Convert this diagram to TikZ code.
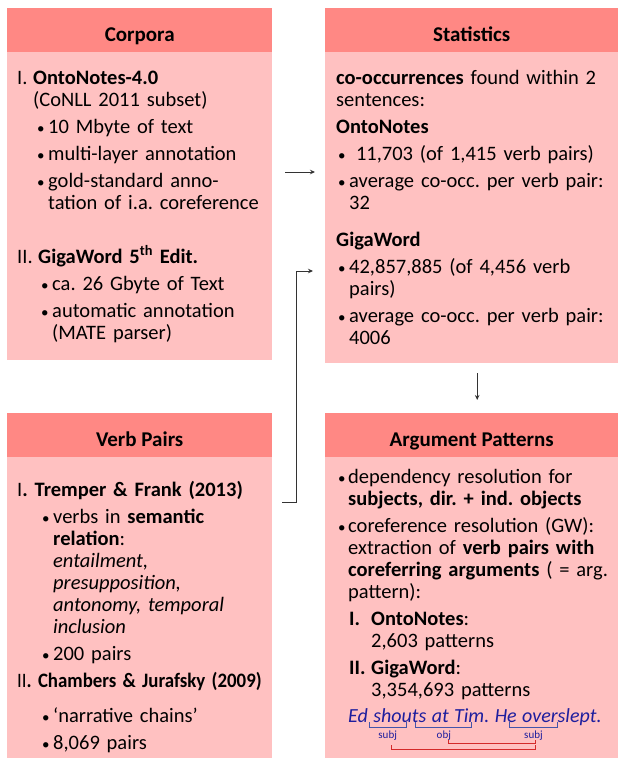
\documentclass[tikz,border=0pt]{standalone}
\usepackage{fontspec}
\setmainfont{Carlito}
\usepackage{graphicx}
\usetikzlibrary{arrows.meta,calc}
\frenchspacing

\definecolor{headred}{HTML}{FF8884}
\definecolor{bodypink}{HTML}{FFC1C1}
\definecolor{exblue}{HTML}{1E1E9E}
\definecolor{brkblue}{HTML}{4455AA}
\definecolor{corefred}{HTML}{D42A2A}

\newcommand\bodyfnt{\fontsize{20.5}{22}\selectfont\parskip=5pt\relax}
\newcommand\bul{{\fontsize{15}{15}\selectfont\textbullet}}
\newcommand\li[4]{\par\hangindent=#2\hangafter=1\noindent\makebox[#2][l]{\hspace*{#1}#3}\strut#4\par}

\begin{document}
\begin{tikzpicture}[x=1pt,y=-1pt,
	head/.style={fill=headred, anchor=north west, inner sep=0pt, minimum height=44pt,
		font=\fontsize{21}{24}\selectfont\bfseries, text height=23pt, text depth=0pt},
	body/.style={fill=bodypink, anchor=north west, inner sep=0pt},
	txt/.style={anchor=north west, inner sep=0pt, text width=290pt, align=left, font=\bodyfnt},
	word/.style={anchor=base west, inner sep=0pt, text=exblue, font=\fontsize{20}{22}\selectfont\itshape},
	lab/.style={anchor=base, inner sep=0pt, text=exblue, font=\fontsize{11}{12}\selectfont},
	brk/.style={draw=brkblue, line width=1pt},
	coref/.style={draw=corefred, line width=1pt},
	arr/.style={draw=black!80, line width=1pt, -{Stealth[length=5pt,width=4.5pt]}}]

	\useasboundingbox (0,0) rectangle (618,758);

	% boxes
	\node[head, minimum width=265pt] (corpHead) at (7,8) {Corpora};
	\node[body, minimum width=265pt, minimum height=308pt] (corpBody) at (7,52) {};
	\node[head, minimum width=293pt] (statHead) at (325,8) {Statistics};
	\node[body, minimum width=293pt, minimum height=311pt] (statBody) at (325,52) {};
	\node[head, minimum width=265pt] (verbHead) at (7,413) {Verb Pairs};
	\node[body, minimum width=265pt, minimum height=301pt] (verbBody) at (7,457) {};
	\node[head, minimum width=293pt] (argHead) at (325,413) {Argument Patterns};
	\node[body, minimum width=293pt, minimum height=301pt] (argBody) at (325,457) {};

	% texts
	\node[txt] (corpText) at (17,57) {
		\li{0pt}{16pt}{I.}{\textbf{OntoNotes-4.0}\newline(CoNLL 2011 subset)}
		\li{20pt}{31pt}{\bul}{10 Mbyte of text}
		\li{20pt}{31pt}{\bul}{multi-layer annotation}
		\li{20pt}{31pt}{\bul}{gold-standard anno-\newline tation of i.a. coreference}
		\vspace{27pt}
		\li{0pt}{21pt}{II.}{\textbf{GigaWord 5\textsuperscript{th} Edit.}}
		\li{24pt}{35pt}{\bul}{ca. 26 Gbyte of Text}
		\li{24pt}{35pt}{\bul}{automatic annotation\newline(MATE parser)}
	};
	\node[txt] (statText) at (336,57) {
		\li{0pt}{0pt}{}{\textbf{co-occurrences} found within 2\newline sentences:}
		\li{0pt}{0pt}{}{\textbf{OntoNotes}}
		\li{2pt}{13pt}{\bul}{\ 11,703 (of 1,415 verb pairs)}
		\li{2pt}{13pt}{\bul}{average co-occ. per verb pair:\newline 32}
		\vspace{10pt}
		\li{0pt}{0pt}{}{\textbf{GigaWord}}
		\li{2pt}{13pt}{\bul}{42,857,885 (of 4,456 verb\newline pairs)}
		\li{2pt}{13pt}{\bul}{average co-occ. per verb pair:\newline 4006}
	};
	\node[txt] (verbText) at (17,469) {
		\li{0pt}{0pt}{}{I\textbf{. Tremper \& Frank (2013)}}
		\li{25pt}{36pt}{\bul}{verbs in \textbf{semantic}\newline\textbf{relation}:\newline
			\textit{entailment,}\newline\textit{presupposition,}\newline
			\textit{antonomy, temporal}\newline\textit{inclusion}}
		\li{25pt}{36pt}{\bul}{200 pairs}
		\li{0pt}{0pt}{}{\scalebox{.92}[1]{II\textbf{. Chambers \& Jurafsky (2009)}}}
		\vspace{8pt}
		\li{25pt}{36pt}{\bul}{`narrative chains'}
		\li{25pt}{36pt}{\bul}{8,069 pairs}
	};
	\node[txt] (argText) at (338,456) {
		\li{0pt}{10pt}{\bul}{dependency resolution for\newline\textbf{subjects, dir. + ind. objects}}
		\li{0pt}{10pt}{\bul}{coreference resolution (GW):\newline extraction of \textbf{verb pairs with}\newline
			\textbf{coreferring arguments} ( = arg.\newline pattern):}
		\li{11pt}{33pt}{\textbf{I.}}{\textbf{OntoNotes}:\newline 2,603 patterns}
		\li{11pt}{33pt}{\textbf{II.}}{\textbf{GigaWord}:\newline 3,354,693 patterns}
	};

	% example sentence
	\node[word] (wEd) at (348,722) {Ed};
	\node[word] (wShouts) at ([xshift=5pt]wEd.base east) {shouts};
	\node[word] (wAt) at ([xshift=5pt]wShouts.base east) {at};
	\node[word] (wTim) at ([xshift=5pt]wAt.base east) {Tim.};
	\node[word] (wHe) at ([xshift=5pt]wTim.base east) {He};
	\node[word] (wOver) at ([xshift=5pt]wHe.base east) {overslept.};

	\coordinate (b1l) at ([xshift=1pt]wEd.base east);
	\coordinate (b1r) at ($(wShouts.base west)!.62!(wShouts.base east)$);
	\coordinate (b2l) at ($(wShouts.base west)!.8!(wShouts.base east)$);
	\coordinate (b2r) at ($(wTim.base west)!.5!(wTim.base east)$);
	\coordinate (b3l) at ($(wHe.base west)!.68!(wHe.base east)$);
	\coordinate (b3r) at ($(wOver.base west)!.44!(wOver.base east)$);
	\draw[brk] (b1l) -- ++(0,5) -| (b1r);
	\draw[brk] (b2l) -- ++(0,5) -| (b2r);
	\draw[brk] (b3l) -- ++(0,5) -| (b3r);
	\node[lab] (subjA) at ($(b1l)!.5!(b1r) + (0,16)$) {subj};
	\node[lab] (objB) at ($(b2l)!.5!(b2r) + (0,16)$) {obj};
	\node[lab] (subjC) at ($(b3l)!.5!(b3r) + (0,16)$) {subj};
	\draw[coref] ([xshift=5pt]objB.south) -- ++(0,3) -| ([xshift=2pt]subjC.south);
	\draw[coref] ([xshift=4pt,yshift=-5pt]subjA.south) -- ++(0,4) -| ([xshift=2pt,yshift=-5pt]subjC.south);

	% arrows
	\coordinate (y1) at (0,172);
	\coordinate (y2) at (0,502);
	\coordinate (bend) at (296,271);
	\draw[arr, shorten <=13pt, shorten >=10pt] (corpBody.east |- y1) -- (statBody.west |- y1);
	\draw[arr, shorten <=10pt, shorten >=12pt] (verbBody.east |- y2) -| (bend) -- (statBody.west |- bend);
	\draw[arr, shorten <=10pt, shorten >=13pt] ([xshift=5.5pt]statBody.south) -- ([xshift=5.5pt]argHead.north);

\end{tikzpicture}
\end{document}
